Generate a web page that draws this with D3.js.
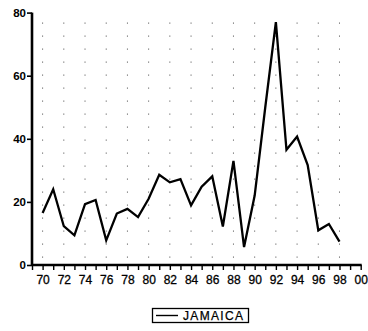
<!DOCTYPE html>
<html>
<head>
<meta charset="utf-8">
<script src="https://cdn.jsdelivr.net/npm/d3@7"></script>
<style>
  html, body { margin: 0; padding: 0; background: #fff; }
  svg { display: block; }
</style>
</head>
<body>
<svg id="chart" width="368" height="331"></svg>
<script>
// Annual series, 1970–1998
const years = d3.range(1970, 1999);
const jamaica = [16.5, 24, 12.3, 9.4, 19.3, 20.6, 7.8, 16.3, 17.8, 15.2,
                 21, 28.6, 26.2, 27.2, 18.9, 24.8, 28.1, 12.2, 33, 5.7,
                 22, 50, 77, 36.5, 40.7, 31.7, 11, 13, 7.4];
const yTicks = [0, 20, 40, 60, 80];
const xLabelYears = d3.range(1970, 2001, 2);
const seriesName = "JAMAICA";

const svg = d3.select("#chart");
const plotLeft = 32, plotRight = 360.7, plotTop = 12.6, plotBottom = 265;

const x = d3.scaleLinear().domain([1969, 2000]).range([plotLeft, plotRight]);
const y = d3.scaleLinear().domain([0, 80]).range([plotBottom, plotTop]);

// sparse dotted verticals at even years
svg.append("g")
  .selectAll("line")
  .data(d3.range(1970, 1999, 2))
  .join("line")
  .attr("x1", d => x(d)).attr("x2", d => x(d))
  .attr("y1", y(80) + 10).attr("y2", plotBottom - 4)
  .attr("stroke", "#444")
  .attr("stroke-width", 1)
  .attr("stroke-dasharray", "1 12");

// y axis
const yAxis = d3.axisLeft(y).tickValues(yTicks).tickSize(5).tickPadding(1)
  .tickFormat(d3.format("d"));
const gy = svg.append("g").attr("transform", `translate(${plotLeft},0)`).call(yAxis);
gy.select(".domain").attr("stroke", "#000").attr("stroke-width", 2.6)
  .attr("d", `M0,${plotTop}V${plotBottom}`);
gy.selectAll(".tick line").attr("stroke", "#000").attr("stroke-width", 1.6);
gy.selectAll(".tick text")
  .attr("font-family", "Liberation Sans, Arial, sans-serif")
  .attr("font-size", 11.5).attr("font-weight", "bold").attr("fill", "#000");

// x axis: a tick every year, labels every other year
const xAxis = d3.axisBottom(x).tickValues(d3.range(1969, 2001)).tickSize(5)
  .tickFormat(d => xLabelYears.includes(d) ? String(d).slice(2) : "");
const gx = svg.append("g").attr("transform", `translate(0,${plotBottom})`).call(xAxis);
gx.select(".domain").attr("stroke", "#000").attr("stroke-width", 2.6)
  .attr("d", `M${plotLeft},0H${plotRight + 1}`);
gx.selectAll(".tick line").attr("stroke", "#000").attr("stroke-width", 1.4);
gx.selectAll(".tick text")
  .attr("font-family", "Liberation Sans, Arial, sans-serif")
  .attr("font-size", 12).attr("fill", "#000").attr("dy", "0.9em")
  .attr("stroke", "#000").attr("stroke-width", 0.3);

// data line
const line = d3.line().x((d, i) => x(years[i])).y(d => y(d));
svg.append("path")
  .datum(jamaica)
  .attr("d", line)
  .attr("fill", "none")
  .attr("stroke", "#000")
  .attr("stroke-width", 2.3)
  .attr("stroke-linejoin", "miter");

// legend
const lg = svg.append("g");
lg.append("rect")
  .attr("x", 152.5).attr("y", 308.5).attr("width", 96).attr("height", 14)
  .attr("fill", "#fff").attr("stroke", "#000").attr("stroke-width", 1.3);
lg.append("line")
  .attr("x1", 156).attr("x2", 178).attr("y1", 315.5).attr("y2", 315.5)
  .attr("stroke", "#000").attr("stroke-width", 1.4);
lg.append("text")
  .attr("x", 183).attr("y", 320)
  .attr("font-family", "Liberation Sans, Arial, sans-serif")
  .attr("font-size", 12)
  .attr("stroke", "#000").attr("stroke-width", 0.25)
  .attr("textLength", 60).attr("lengthAdjust", "spacing")
  .text(seriesName);
</script>
</body>
</html>
